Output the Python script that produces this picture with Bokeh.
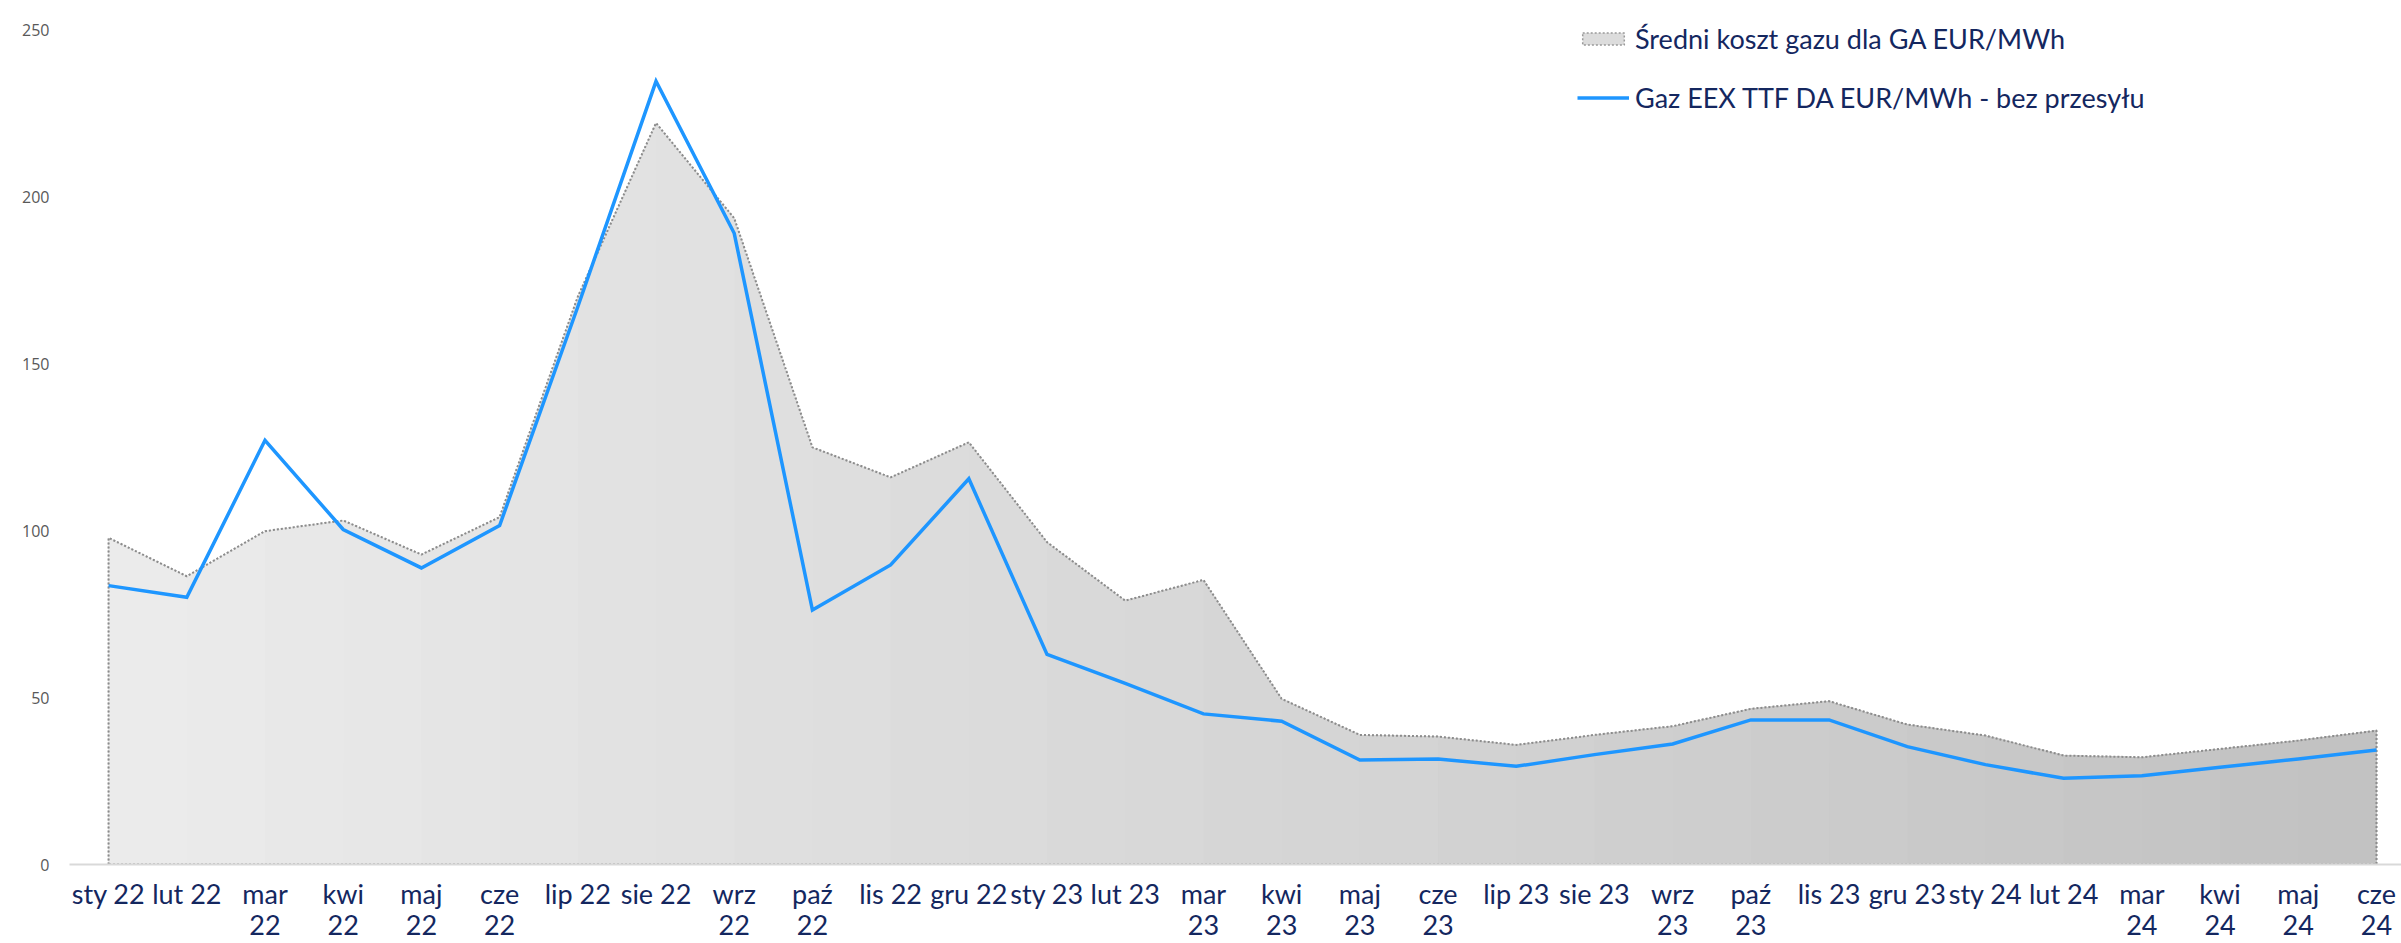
from bokeh.plotting import figure
from bokeh.models import Range1d, FixedTicker, Legend, LegendItem, ColumnDataSource
from bokeh.embed import file_html
from bokeh.resources import INLINE
from bokeh.core.properties import value

# ---- data ----
tick_labels = ["sty 22", "lut 22", "mar\n22", "kwi\n22", "maj\n22", "cze\n22", "lip 22", "sie 22",
               "wrz\n22", "paź\n22", "lis 22", "gru 22", "sty 23", "lut 23", "mar\n23", "kwi\n23",
               "maj\n23", "cze\n23", "lip 23", "sie 23", "wrz\n23", "paź\n23", "lis 23", "gru 23",
               "sty 24", "lut 24", "mar\n24", "kwi\n24", "maj\n24", "cze\n24"]
avg_cost = [97.8, 86.3, 99.8, 103.0, 92.8, 104.0, 170.0, 222.0, 193.5, 124.9,
            115.9, 126.4, 96.5, 79.0, 85.2, 49.6, 38.8, 38.3, 35.8, 38.8,
            41.4, 46.6, 48.9, 41.9, 38.6, 32.6, 32.1, 34.6, 37.1, 40.1]
ttf = [83.5, 80.0, 127.0, 100.3, 88.8, 101.5, 167.0, 234.5, 189.0, 76.2,
       89.7, 115.5, 62.9, 54.2, 45.1, 42.9, 31.3, 31.6, 29.4, 32.9,
       36.1, 43.3, 43.3, 35.3, 29.9, 25.8, 26.6, 29.1, 31.6, 34.3]
y_ticks = [0, 50, 100, 150, 200, 250]
label_avg = "Średni koszt gazu dla GA EUR/MWh"
label_ttf = "Gaz EEX TTF DA EUR/MWh - bez przesyłu"

x = list(range(len(tick_labels)))
n = len(x)

NAVY = "#14275F"

# frame top sits a little above the 250 tick so the legend is not clipped
p = figure(width=2401, height=943, output_backend="svg", toolbar_location=None,
           x_range=Range1d(-0.5, 29.32), y_range=Range1d(0, 256.3),
           min_border_left=69, min_border_right=0, min_border_top=8, min_border_bottom=0)
p.outline_line_color = None
p.xgrid.visible = False
p.ygrid.visible = False
p.background_fill_color = "white"
p.border_fill_color = "white"

# area outline + base fill (also serves as the legend glyph)
ox = [x[0]] + x + [x[-1]]
oy = [0] + avg_cost + [0]
area_base = p.patch(ox, oy, fill_color="#DCDCDC", line_color="#999999",
                    line_width=1.5, line_dash="2 2")

# gradient-like area: stacked strips, lighter on the left, darker on the right
for i in range(n - 1):
    c = int(round(236 - (236 - 193) * (i + 0.5) / (n - 1)))
    src = ColumnDataSource(dict(x=x[i:], y=avg_cost[i:]))
    p.varea(x="x", y1=0, y2="y", source=src, fill_color=(c, c, c))

# dotted outline of the area on top of the fill
p.line(ox + [x[0]], oy + [0], line_color="#8C8C8C", line_width=2, line_dash="2 2")

blue = p.line(x, ttf, line_color="#1E96FF", line_width=3.5, line_join="miter")

# axes
xa = p.xaxis[0]
xa.ticker = FixedTicker(ticks=x)
xa.major_label_overrides = {i: lab for i, lab in zip(x, tick_labels)}
xa.major_tick_line_color = None
xa.minor_tick_line_color = None
xa.axis_line_color = "#D9D9D9"
xa.axis_line_width = 2
xa.major_label_text_font = "Lato"
xa.major_label_text_font_size = "27px"
xa.major_label_text_color = NAVY
xa.major_label_text_line_height = 0.95
xa.major_label_standoff = 6

ya = p.yaxis[0]
ya.ticker = FixedTicker(ticks=y_ticks)
ya.axis_line_color = None
ya.major_tick_line_color = None
ya.minor_tick_line_color = None
ya.major_label_text_font = "Open Sans"
ya.major_label_text_font_size = "16px"
ya.major_label_text_color = "#595959"
ya.major_label_standoff = 14

legend = Legend(items=[LegendItem(label=label_avg, renderers=[area_base]),
                       LegendItem(label=label_ttf, renderers=[blue])],
                location=(1508, 750), orientation="vertical",
                glyph_width=52, glyph_height=15, label_standoff=6, spacing=26,
                padding=0, margin=0, border_line_color=None, background_fill_alpha=0,
                label_text_font="Lato", label_text_font_size="27px", label_text_color=NAVY)
p.add_layout(legend)

open("out.html", "w").write(file_html(p, INLINE))
